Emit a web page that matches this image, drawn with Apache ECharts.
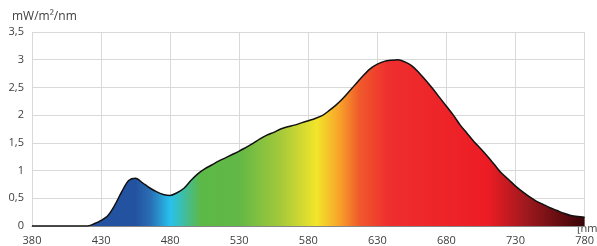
<!DOCTYPE html>
<html>
<head>
<meta charset="utf-8">
<script src="https://cdn.jsdelivr.net/npm/echarts@6/dist/echarts.min.js"></script>
<style>
  html, body { margin: 0; padding: 0; background: #fff; }
  #chart { width: 597px; height: 246px; }
</style>
</head>
<body>
<div id="chart"></div>
<script>
// wavelength [nm] and irradiance [mW/m2/nm]
var wavelengths = [380, 420, 425, 430, 435, 440, 445, 450, 455, 460, 465, 470, 475, 480, 485, 490, 495,
  500, 505, 510, 515, 520, 525, 530, 535, 540, 545, 550, 555, 560, 565, 570, 575, 580, 585, 590, 595,
  600, 605, 610, 615, 620, 625, 630, 635, 640, 645, 650, 655, 660, 665, 670, 675, 680, 685, 690, 695,
  700, 705, 710, 715, 720, 725, 730, 735, 740, 745, 750, 755, 760, 765, 770, 775, 780];
var values = [0, 0, 0.04, 0.1, 0.19, 0.38, 0.62, 0.82, 0.86, 0.78, 0.69, 0.62, 0.57, 0.55, 0.6, 0.68, 0.82,
  0.94, 1.03, 1.1, 1.17, 1.23, 1.29, 1.35, 1.42, 1.49, 1.57, 1.64, 1.69, 1.75, 1.79, 1.82, 1.86, 1.9, 1.94, 1.99, 2.08,
  2.18, 2.3, 2.44, 2.58, 2.72, 2.84, 2.92, 2.97, 2.99, 3.0, 2.96, 2.89, 2.77, 2.63, 2.48, 2.32, 2.16, 2.0, 1.82, 1.67,
  1.52, 1.39, 1.25, 1.1, 0.95, 0.84, 0.72, 0.62, 0.53, 0.45, 0.39, 0.33, 0.28, 0.23, 0.19, 0.17, 0.16];
var xTicks = [380, 430, 480, 530, 580, 630, 680, 730, 780];
var yTicks = [0, 0.5, 1, 1.5, 2, 2.5, 3, 3.5];

// spectrum colours at given wavelengths
var colorNm = [380, 455, 466, 480, 502, 530, 560, 586, 602, 617, 638, 710, 737, 780];
var colorHex = ['#2353a0', '#2353a0', '#2a6fb5', '#28c1ee', '#5cb947', '#62b846', '#a5c93a', '#f2e52a',
  '#f8a52a', '#f05a2b', '#ee2e2f', '#ed1c24', '#a0191e', '#3a0508'];

var stops = [];
for (var i = 0; i < colorNm.length; i++) {
  stops.push({ offset: (colorNm[i] - 380) / 400, color: colorHex[i] });
}

var data = [];
for (var i = 0; i < wavelengths.length; i++) {
  data.push([wavelengths[i], values[i]]);
}

var chart = echarts.init(document.getElementById('chart'));
chart.setOption({
  animation: false,
  grid: { left: 32, right: 10, top: 32, bottom: 20 },
  xAxis: {
    type: 'value',
    min: xTicks[0],
    max: xTicks[xTicks.length - 1],
    interval: 50,
    axisLine: { show: true, lineStyle: { color: '#868686', width: 1 } },
    axisTick: { show: false },
    axisLabel: { color: '#404040', fontSize: 11, fontFamily: 'Open Sans', margin: 9 },
    splitLine: { show: true, lineStyle: { color: '#d9d9d9', width: 1 } }
  },
  yAxis: {
    type: 'value',
    min: yTicks[0],
    max: yTicks[yTicks.length - 1],
    interval: 0.5,
    axisLine: { show: false },
    axisTick: { show: false },
    axisLabel: {
      color: '#404040', fontSize: 11, fontFamily: 'Open Sans', margin: 8,
      formatter: function (v) { return String(v).replace('.', ','); }
    },
    splitLine: { show: true, lineStyle: { color: '#d9d9d9', width: 1 } }
  },
  graphic: [
    { type: 'text', left: 12, top: 11, style: { text: 'mW/m²/nm', fill: '#404040', font: '12px "Open Sans"' } },
    { type: 'text', left: 577, top: 223, style: { text: '[nm', fill: '#404040', font: '11px "Open Sans"' } }
  ],
  series: [{
    type: 'line',
    data: data,
    showSymbol: false,
    smooth: 0.3,
    lineStyle: { color: '#111', width: 1.5 },
    areaStyle: {
      opacity: 1,
      color: new echarts.graphic.LinearGradient(0, 0, 1, 0, stops)
    }
  }]
});
</script>
</body>
</html>
